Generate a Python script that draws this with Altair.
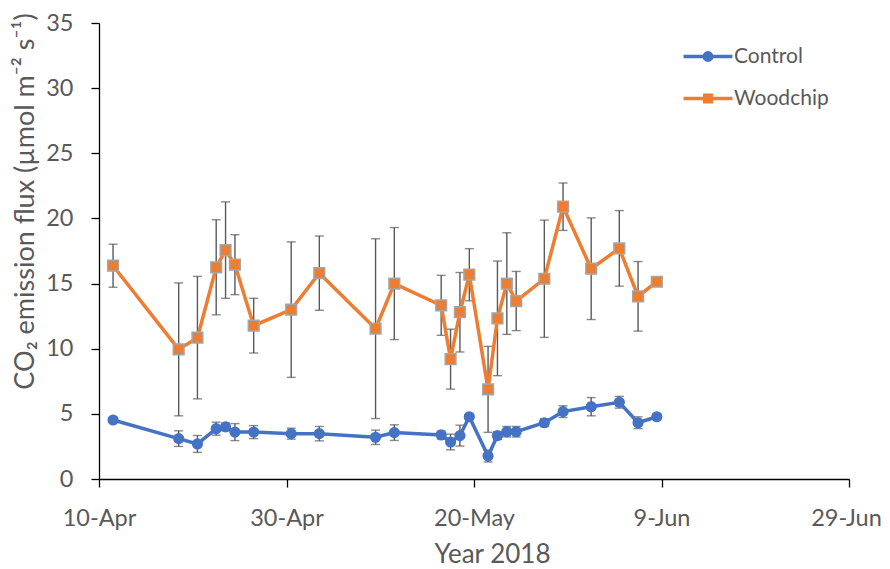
import altair as alt
import pandas as pd

dates = ["2018-04-11T12:00:00", "2018-04-18T12:00:00", "2018-04-20T12:00:00", "2018-04-22T12:00:00",
         "2018-04-23T12:00:00", "2018-04-24T12:00:00", "2018-04-26T12:00:00", "2018-04-30T12:00:00",
         "2018-05-03T12:00:00", "2018-05-09T12:00:00", "2018-05-11T12:00:00", "2018-05-16T12:00:00",
         "2018-05-17T12:00:00", "2018-05-18T12:00:00", "2018-05-19T12:00:00", "2018-05-21T12:00:00",
         "2018-05-22T12:00:00", "2018-05-23T12:00:00", "2018-05-24T12:00:00", "2018-05-27T12:00:00",
         "2018-05-29T12:00:00", "2018-06-01T12:00:00", "2018-06-04T12:00:00", "2018-06-06T12:00:00",
         "2018-06-08T12:00:00"]

control = [4.53, 3.10, 2.69, 3.86, 4.00, 3.60, 3.60, 3.48, 3.48, 3.20, 3.56, 3.38, 2.84,
           3.33, 4.78, 1.76, 3.33, 3.63, 3.63, 4.32, 5.17, 5.55, 5.89, 4.32, 4.78]
control_err = [0.2, 0.6, 0.65, 0.5, 0.3, 0.65, 0.5, 0.42, 0.55, 0.55, 0.6, 0.3, 0.6,
               0.8, 0.2, 0.45, 0.3, 0.4, 0.4, 0.3, 0.45, 0.7, 0.45, 0.45, 0.2]

woodchip = [16.37, 9.95, 10.85, 16.25, 17.57, 16.45, 11.77, 13.00, 15.80, 11.54, 15.00, 13.33, 9.20,
            12.80, 15.68, 6.88, 12.33, 15.00, 13.66, 15.37, 20.90, 16.14, 17.70, 14.02, 15.14]
woodchip_err = [1.65, 5.1, 4.7, 3.65, 3.7, 2.3, 2.1, 5.2, 2.85, 6.9, 4.3, 2.3, 2.3,
                3.05, 2.0, 3.3, 4.4, 3.9, 2.27, 4.5, 1.82, 3.9, 2.9, 2.67, 0.3]

series_names = ["Control", "Woodchip"]
series_colors = ["#4472C4", "#ED7D31"]
x_ticks = [(2018, 4, 10), (2018, 4, 30), (2018, 5, 20), (2018, 6, 9), (2018, 6, 29)]
y_ticks = [0, 5, 10, 15, 20, 25, 30, 35]

rows = []
for name, vals, errs in [("Control", control, control_err), ("Woodchip", woodchip, woodchip_err)]:
    for d, v, e in zip(dates, vals, errs):
        rows.append({"date": d, "series": name, "value": v, "lo": v - e, "hi": v + e})
df = pd.DataFrame(rows)

FONT = "Lato"
GRAY = "#595959"

def dt(t):
    return alt.DateTime(year=t[0], month=t[1], date=t[2])

x_enc = alt.X("date:T",
              scale=alt.Scale(domain=[dt(x_ticks[0]), dt(x_ticks[-1])]),
              axis=alt.Axis(values=[dt(t) for t in x_ticks], format="%-d-%b", title="Year 2018",
                            labelPadding=19, labelFlush=False,
                            labelOffset={"condition": {"test": "datum.value > time(datetime(2018, 5, 20))",
                                                       "value": -3}, "value": 0},
                            titleX=393, titleY=83, titleBaseline="alphabetic"))
y_scale = alt.Scale(domain=[0, 35], nice=False)
y_enc = alt.Y("value:Q", scale=y_scale,
              axis=alt.Axis(values=y_ticks, title="CO₂ emission flux (µmol m⁻² s⁻¹)",
                            labelPadding=18, titleX=-66, titleY=178, titleBaseline="alphabetic",
                            titleFontSize=27))

# stroke-only legend symbols: a line with a solid marker built from concentric outlines
circle_path = ("M-2.5,0H2.5"
               "M0.38,0A0.38,0.38,0,1,1,-0.38,0A0.38,0.38,0,1,1,0.38,0Z"
               "M0.12,0A0.12,0.12,0,1,1,-0.12,0A0.12,0.12,0,1,1,0.12,0Z")
square_path = ("M-2.5,0H2.5"
               "M-0.33,-0.33H0.33V0.33H-0.33Z"
               "M-0.1,-0.1H0.1V0.1H-0.1Z")

def make_legend(symbol, ly):
    return alt.Legend(
        title=None, orient="none", legendX=597, legendY=ly,
        symbolType=symbol, symbolSize=384, symbolStrokeWidth=3.5, symbolOpacity=1,
        labelOffset=14, labelFontSize=21, labelFont=FONT, labelColor=GRAY,
    )

color_scale = alt.Scale(domain=series_names, range=series_colors)

base = alt.Chart(df)

err_rule = base.mark_rule(color=GRAY, strokeWidth=1.4).encode(x=x_enc, y=alt.Y("lo:Q", scale=y_scale), y2="hi:Q")
cap_lo = base.mark_tick(orient="horizontal", size=9, thickness=1.4, color=GRAY).encode(x=x_enc, y=alt.Y("lo:Q", scale=y_scale))
cap_hi = base.mark_tick(orient="horizontal", size=9, thickness=1.4, color=GRAY).encode(x=x_enc, y=alt.Y("hi:Q", scale=y_scale))

lines = base.mark_line(strokeWidth=3.5).encode(
    x=x_enc, y=y_enc, color=alt.Color("series:N", scale=color_scale, legend=None), detail="series:N")

pts_c = base.transform_filter(alt.datum.series == "Control").mark_point(
    shape="circle", filled=True, size=125, color=series_colors[0], opacity=1).encode(x=x_enc, y=y_enc)
pts_w = base.transform_filter(alt.datum.series == "Woodchip").mark_point(
    shape="square", filled=True, size=115, fill=series_colors[1], stroke="#A5A5A5", strokeWidth=1.5,
    opacity=1).encode(x=x_enc, y=y_enc)

# empty layers (no rows pass the filter) that only carry one legend entry each
leg_c = base.transform_filter("datum.value < 0").mark_line(strokeWidth=3.5).encode(
    x=x_enc, y=y_enc,
    stroke=alt.Stroke("series:N", scale=alt.Scale(domain=[series_names[0]], range=[series_colors[0]]),
                      legend=make_legend(circle_path, 21.5)))
leg_w = base.transform_filter("datum.value < 0").mark_line(strokeWidth=3.5).encode(
    x=x_enc, y=y_enc,
    stroke=alt.Stroke("series:N", scale=alt.Scale(domain=[series_names[1]], range=[series_colors[1]]),
                      legend=make_legend(square_path, 63.5)))

chart = alt.layer(err_rule, cap_lo, cap_hi, lines, pts_c, pts_w, leg_c, leg_w).resolve_scale(
    stroke="independent"
).properties(
    width=750, height=456,
    autosize=alt.AutoSizeParams(type="none"),
    padding={"left": 91, "top": 15, "right": 33, "bottom": 88},
).configure_view(stroke=None).configure_axis(
    grid=False, domainColor="black", domainWidth=1.3, tickColor="black", tickWidth=1.3, tickSize=8,
    labelFont=FONT, labelFontSize=23.5, labelColor=GRAY,
    titleFont=FONT, titleFontSize=26, titleColor=GRAY, titleFontWeight="normal",
)

chart.save("out.html", embed_options={"renderer": "svg", "actions": False})
